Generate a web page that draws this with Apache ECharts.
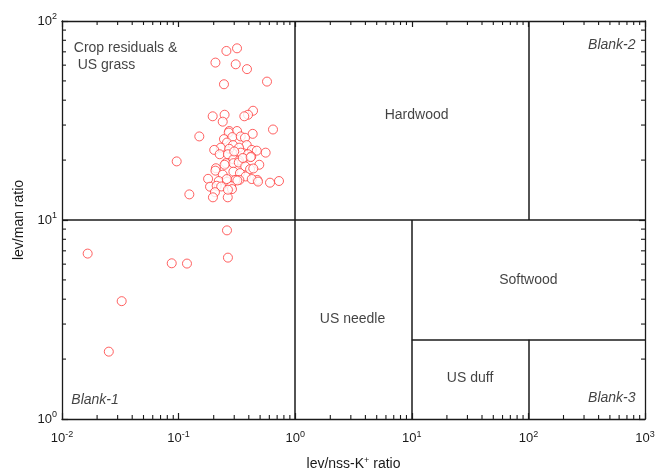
<!DOCTYPE html>
<html>
<head>
<meta charset="utf-8">
<script src="https://cdn.jsdelivr.net/npm/echarts@6/dist/echarts.min.js"></script>
<style>html,body{margin:0;padding:0;background:#fff;}#c{width:655px;height:471px;}</style>
</head>
<body>
<div id="c"></div>
<script>
// ---- data ----
const samplesX = [
  0.257,0.317,0.207,0.309,0.386,0.573,0.245,0.435,0.394,0.366,0.248,0.196,0.239,0.645,0.1505,0.0963,0.1236,0.264,0.726,0.608,0.558,0.492,0.473,
  0.272,0.317,0.269,0.432,0.245,0.289,0.341,0.371,0.260,0.293,0.384,0.230,0.202,0.272,0.330,0.424,0.468,0.225,0.265,0.341,0.394,0.420,0.359,0.295,0.330,0.254,0.295,0.328,0.373,0.410,0.437,0.209,0.207,0.239,0.295,0.336,0.376,0.332,0.424,0.480,0.179,0.221,0.260,0.307,0.186,0.212,0.232,0.282,0.287,0.205,0.197,0.265,
  0.300,0.355,0.248,0.259,0.319,0.415,
  0.0166,0.0325,0.0252,0.0873,0.118,0.260,0.265
];
const samplesY = [
  70.7,72.9,61.8,60.6,57.3,49.6,48.1,35.4,33.8,33.2,33.8,33.2,31.2,28.5,26.3,19.7,13.45,13.0,15.7,15.4,21.8,18.95,15.9,
  28.0,28.0,27.5,27.1,25.5,26.1,26.3,25.9,24.5,23.8,23.8,23.1,22.5,22.8,23.1,22.5,22.3,21.4,21.4,21.8,21.4,20.85,20.3,20.2,19.9,19.3,19.3,19.45,18.6,18.0,18.15,18.2,17.7,16.9,17.5,17.2,16.55,15.9,16.06,15.6,16.1,15.7,15.57,15.9,14.7,14.86,14.74,14.8,14.3,13.8,13.0,14.2,
  22.1,20.5,18.95,16.06,15.8,20.7,
  6.78,3.91,2.18,6.06,6.04,8.87,6.47
];
const xTickLabels = {'-2':'-2','-1':'-1','0':'0','1':'1','2':'2','3':'3'};
const yTickLabels = {'0':'0','1':'1','2':'2'};
const minorMultipliers = [2,3,4,5,6,7,8,9];
const xDecades = [0.01,0.1,1,10,100];
const yDecades = [1,10];
const boundaries = [
  [[1,1],[1,100]],
  [[0.01,10],[1000,10]],
  [[100,10],[100,100]],
  [[10,1],[10,10]],
  [[10,2.5],[1000,2.5]],
  [[100,1],[100,2.5]]
];
const regionNames = ['Crop residuals &\n US grass','Hardwood','Blank-2','Softwood','US needle','US duff','Blank-3','Blank-1'];
const regionX = [0.0125,11.0,838,100,3.1,31.6,838,0.0119];
const regionY = [66,33.8,75.8,5.0,3.16,1.6,1.28,1.25];

// ---- build ----
const FONT = '"Liberation Sans", Arial, Helvetica, sans-serif';
const INK = '#1a1a1a';
const points = samplesX.map((x,i)=>[x, samplesY[i]]);
const minorData = [];
xDecades.forEach(d=>minorMultipliers.forEach(m=>minorData.push([m*d,1,0])));
yDecades.forEach(d=>minorMultipliers.forEach(m=>minorData.push([1,m*d,1])));

const supRich = {
  b:{fontFamily:FONT,fontSize:13,color:INK},
  s:{fontFamily:FONT,fontSize:9,color:INK,padding:[0,0,8,0]}
};
function expLabel(map){
  return function(v){
    const e = String(Math.round(Math.log10(v)));
    return '{b|10}{s|' + (map[e]!==undefined?map[e]:e) + '}';
  };
}
const italicSet = {'Blank-1':1,'Blank-2':1,'Blank-3':1};
const alignOf = {'Crop residuals &\n US grass':'right','Blank-1':'right','Blank-2':'left','Blank-3':'left'};
const regionData = regionNames.map((n,i)=>({
  value:[regionX[i],regionY[i]],
  label:{
    formatter:n,
    position: alignOf[n] || 'inside',
    distance:0,
    align: alignOf[n]==='right' ? 'left' : (alignOf[n]==='left' ? 'right' : 'center'),
    fontStyle: italicSet[n] ? 'italic' : 'normal'
  }
}));

const axisCommon = {
  axisLine:{show:true,lineStyle:{color:INK,width:1.3}},
  axisTick:{show:true,inside:true,length:6,lineStyle:{color:INK,width:1.2}},
  splitLine:{show:false}
};

const chart = echarts.init(document.getElementById('c'), null, {renderer:'canvas'});
chart.setOption({
  animation:false,
  backgroundColor:'#fff',
  grid:{left:62,right:10,top:21,bottom:52,containLabel:false,outerBoundsMode:'none'},
  xAxis:[
    Object.assign({type:'log',logBase:10,min:0.01,max:1000,position:'bottom',
      name:'{n|lev/nss-K}{s|+}{n| ratio}',nameLocation:'middle',nameGap:37,
      nameTextStyle:{rich:{n:{fontFamily:FONT,fontSize:14,color:INK},s:{fontFamily:FONT,fontSize:9,color:INK,padding:[0,0,8,0]}}},
      axisLabel:{formatter:expLabel(xTickLabels),margin:11,rich:supRich}},axisCommon),
    Object.assign({type:'log',logBase:10,min:0.01,max:1000,position:'top',axisLabel:{show:false}},axisCommon)
  ],
  yAxis:[
    Object.assign({type:'log',logBase:10,min:1,max:100,position:'left',
      name:'lev/man ratio',nameLocation:'middle',nameGap:34,nameRotate:90,
      nameTextStyle:{fontFamily:FONT,fontSize:14,color:INK},
      axisLabel:{formatter:expLabel(yTickLabels),margin:5,rich:supRich}},axisCommon),
    Object.assign({type:'log',logBase:10,min:1,max:100,position:'right',axisLabel:{show:false}},axisCommon)
  ],
  series:[
    {
      type:'custom',
      coordinateSystem:'cartesian2d',
      silent:true,
      clip:false,
      data:minorData,
      renderItem:function(params,api){
        const cs = params.coordSys;
        const v0 = api.value(0), v1 = api.value(1), dir = api.value(2);
        const L = 4;
        const st = {stroke:INK,lineWidth:1.1};
        if(dir===0){
          const px = api.coord([v0,1])[0];
          const yb = cs.y+cs.height, yt = cs.y;
          return {type:'group',children:[
            {type:'line',shape:{x1:px,y1:yb,x2:px,y2:yb-L},style:st},
            {type:'line',shape:{x1:px,y1:yt,x2:px,y2:yt+L},style:st}
          ]};
        } else {
          const py = api.coord([1,v1])[1];
          const xl = cs.x, xr = cs.x+cs.width;
          return {type:'group',children:[
            {type:'line',shape:{x1:xl,y1:py,x2:xl+L,y2:py},style:st},
            {type:'line',shape:{x1:xr,y1:py,x2:xr-L,y2:py},style:st}
          ]};
        }
      }
    },
    {
      type:'lines',
      coordinateSystem:'cartesian2d',
      silent:true,
      lineStyle:{color:INK,width:1.5,opacity:1},
      data:boundaries.map(b=>({coords:b}))
    },
    {
      type:'scatter',
      symbol:'circle',
      symbolSize:9,
      itemStyle:{color:'#fff',borderColor:'#ff3a3a',borderWidth:1},
      emphasis:{disabled:true},
      data:points,
      z:3
    },
    {
      type:'scatter',
      symbolSize:1,
      itemStyle:{color:'rgba(0,0,0,0)'},
      silent:true,
      labelLayout:{hideOverlap:false},
      label:{show:true,fontFamily:FONT,fontSize:14,color:'#111',lineHeight:17},
      data:regionData,
      z:4
    }
  ]
});
</script>
</body>
</html>
